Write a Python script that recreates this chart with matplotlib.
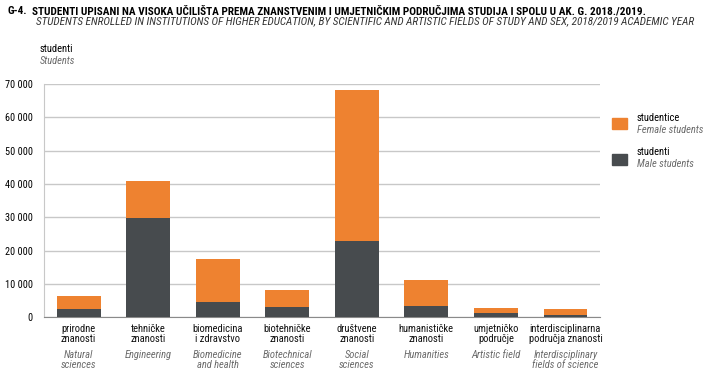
import matplotlib.pyplot as plt
from matplotlib import font_manager
from matplotlib.patches import Rectangle

installed = set(f.name for f in font_manager.fontManager.ttflist)
family = 'DejaVu Sans'
for cand in ['Roboto Condensed', 'Archivo Narrow', 'Barlow Semi Condensed', 'Liberation Sans Narrow']:
    if cand in installed:
        family = cand
        break
plt.rcParams['font.family'] = [family, 'DejaVu Sans']
if family == 'DejaVu Sans':
    plt.rcParams['font.stretch'] = 'condensed'

categories_hr = ["prirodne\nznanosti", "tehničke\nznanosti", "biomedicina\ni zdravstvo",
                 "biotehničke\nznanosti", "društvene\nznanosti", "humanističke\nznanosti",
                 "umjetničko\npodručje", "interdisciplinarna\npodručja znanosti"]
categories_en = ["Natural\nsciences", "Engineering", "Biomedicine\nand health",
                 "Biotechnical\nsciences", "Social\nsciences", "Humanities",
                 "Artistic field", "Interdisciplinary\nfields of science"]
male = [2300, 29800, 4400, 2900, 23000, 3200, 1100, 600]
female = [4000, 11200, 13200, 5100, 45100, 8000, 1700, 1700]
yticks = [0, 10000, 20000, 30000, 40000, 50000, 60000, 70000]

orange = '#EE8230'
dark = '#474B4E'
gray_text = '#6b6b6b'
fs = 7.6

fig = plt.figure(figsize=(7.07, 3.78), dpi=100)
ax = fig.add_axes([0.062, 0.161, 0.787, 0.617])

x = list(range(len(categories_hr)))
ax.bar(x, male, width=0.63, color=dark, zorder=3)
ax.bar(x, female, width=0.63, bottom=male, color=orange, zorder=3)

ax.set_xlim(-0.5, len(x) - 0.5)
ax.set_ylim(0, 70000)
ax.set_yticks(yticks)
ax.set_yticklabels([f"{v:,}".replace(",", " ") for v in yticks], fontsize=7.4)
ax.set_xticks([])
ax.tick_params(axis='y', length=0, pad=8)
ax.grid(axis='y', color='#c8c8c8', linewidth=1, zorder=0)
for s in ['top', 'right']:
    ax.spines[s].set_visible(False)
ax.spines['left'].set_color('#c8c8c8')
ax.spines['bottom'].set_color('#8a8a8a')

for i in x:
    ax.annotate(categories_hr[i], (i, 0), xycoords=('data', 'axes fraction'),
                xytext=(0, -5), textcoords='offset points', ha='center', va='top',
                fontsize=fs, color='#111111', linespacing=1.05)
    ax.annotate(categories_en[i], (i, 0), xycoords=('data', 'axes fraction'),
                xytext=(0, -23.5), textcoords='offset points', ha='center', va='top',
                fontsize=fs, color=gray_text, style='italic', linespacing=1.05)

fig.text(7 / 707, 1 - 11 / 378, "G-4.", fontsize=8.1, fontweight='bold', va='center')
fig.text(32 / 707, 1 - 11 / 378,
         "STUDENTI UPISANI NA VISOKA UČILIŠTA PREMA ZNANSTVENIM I UMJETNIČKIM PODRUČJIMA STUDIJA I SPOLU U AK. G. 2018./2019.",
         fontsize=8.1, fontweight='bold', va='center')
fig.text(36 / 707, 1 - 21.5 / 378,
         "STUDENTS ENROLLED IN INSTITUTIONS OF HIGHER EDUCATION, BY SCIENTIFIC AND ARTISTIC FIELDS OF STUDY AND SEX, 2018/2019 ACADEMIC YEAR",
         fontsize=8.1, style='italic', va='center', color='#333333')
fig.text(40 / 707, 1 - 49 / 378, "studenti", fontsize=fs, va='center')
fig.text(40 / 707, 1 - 61 / 378, "Students", fontsize=fs, style='italic', va='center', color=gray_text)

legend_items = [(orange, "studentice", "Female students", 118, 123.5),
                (dark, "studenti", "Male students", 152, 159.5)]
for col, hr, en, yt, yc in legend_items:
    fig.patches.append(Rectangle((612 / 707, 1 - (yc + 5.5) / 378), 15 / 707, 11 / 378,
                                 transform=fig.transFigure, color=col))
    fig.text(637 / 707, 1 - yt / 378, hr, fontsize=fs, va='center')
    fig.text(637 / 707, 1 - (yt + 12) / 378, en, fontsize=fs, style='italic', va='center', color=gray_text)

fig.savefig('out.png', dpi=100)
